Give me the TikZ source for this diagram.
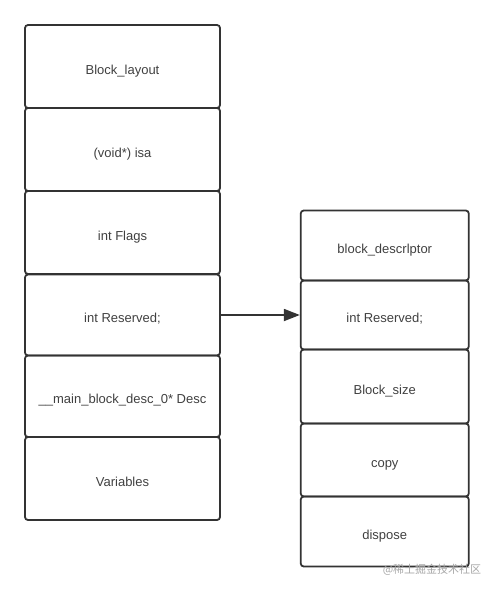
\documentclass[tikz,border=0pt]{standalone}
\usepackage{fontspec}
\setmainfont{Liberation Sans}
\newfontfamily\cjkfont{Noto Sans CJK SC}
\usetikzlibrary{arrows.meta}
\definecolor{boxline}{HTML}{333333}
\definecolor{boxtext}{HTML}{404040}
\tikzset{
  cell/.style={draw=boxline, line width=1.8pt, rounded corners=3pt,
    font=\fontsize{13}{15}\selectfont, text=boxtext, inner sep=0pt,
    text height=15pt, text depth=0pt},
  leftcell/.style={cell, minimum width=195pt},
  rightcell/.style={cell, minimum width=168pt}
}
\begin{document}
\begin{tikzpicture}[x=1pt, y=-1pt]
  \useasboundingbox (0,0) rectangle (494,592);

  % ---- left column: the block layout ----
  \node[leftcell, minimum height=83pt] (layout) at (122.5,66.5) {Block\_layout};
  \node[leftcell, minimum height=83pt] (isa) at (122.5,149.5) {(void*) isa};
  \node[leftcell, minimum height=83pt] (flags) at (122.5,232.5) {int Flags};
  \node[leftcell, minimum height=81pt] (lres) at (122.5,315) {int Reserved;};
  \node[leftcell, minimum height=81.5pt] (desc) at (122.5,396.25) {\_\_main\_block\_desc\_0* Desc};
  \node[leftcell, minimum height=83pt] (vars) at (122.5,478.5) {Variables};

  % ---- right column: the descriptor ----
  \node[rightcell, minimum height=70pt] (descr) at (384.75,245.5) {block\_descrlptor};
  \node[rightcell, minimum height=69pt] (rres) at (384.75,315) {int Reserved;};
  \node[rightcell, minimum height=74pt] (size) at (384.75,386.5) {Block\_size};
  \node[rightcell, minimum height=73pt] (copy) at (384.75,460) {copy};
  \node[rightcell, minimum height=70pt] (dispose) at (384.75,531.5) {dispose};

  % ---- pointer ----
  \draw[boxline, line width=1.8pt, -{Triangle[length=16pt, width=12pt]}]
    (lres.east) -- (rres.west);

  % ---- watermark ----
  \node[text=black!35, font=\cjkfont\fontsize{11}{13}\selectfont] (mark) at (432,570) {@稀土掘金技术社区};

\end{tikzpicture}
\end{document}
